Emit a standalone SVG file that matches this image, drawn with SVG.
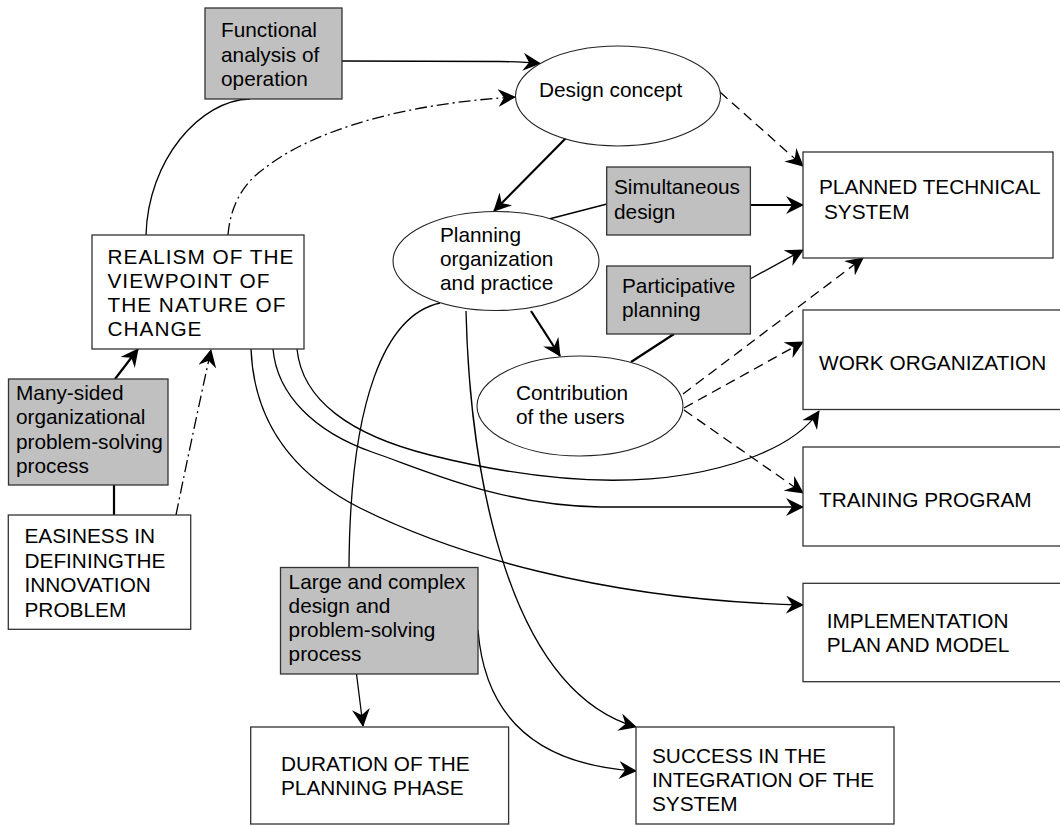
<svg xmlns="http://www.w3.org/2000/svg" width="1060" height="826" viewBox="0 0 1060 826">
<defs>
<style>
.box{fill:#fff;stroke:#333;stroke-width:1.3}
.gray{fill:#c0c0c0;stroke:#333;stroke-width:1.3}
.ell{fill:#fff;stroke:#222;stroke-width:1.1}
text{font-family:"Liberation Sans",Arial,sans-serif;font-size:20.8px;fill:#000}
.ls{letter-spacing:1px}
.c{fill:none;stroke:#000;stroke-width:1.3}
.t{stroke-width:2.2}
.dash{stroke-dasharray:10,6}
.dd{stroke-dasharray:12,4,2,4}
.a{marker-end:url(#arr)}
</style>
<marker id="arr" markerUnits="userSpaceOnUse" viewBox="0 0 18 18" refX="17" refY="9" markerWidth="18" markerHeight="18" orient="auto">
<path d="M0,0 L18,9 L0,18 L6,9 z" fill="#000"/>
</marker>
</defs>
<rect width="1060" height="826" fill="#fff"/>

<g id="connectors">
<path class="c a" d="M342,61 L500,61.5 Q525,62 540,63.5"/>
<path class="c" d="M146,235 C148,160 200,100 250,99"/>
<path class="c a dd" d="M228,235 C230,210 240,185 265,168 C300,140 380,105 515,97"/>
<path class="c t a" d="M567,137 L494,211"/>
<path class="c a dash" d="M720,92 L803,166"/>
<path class="c" d="M549,219 L607,204"/>
<path class="c t a" d="M750,205 L803,205"/>
<path class="c a" d="M750,279 L803,250"/>
<path class="c t a" d="M531,311 L560,356"/>
<path class="c t" d="M674,334 L631,362"/>
<path class="c a dash" d="M683,394 L863,258"/>
<path class="c a dash" d="M684,408 L803,342"/>
<path class="c a dash" d="M684,410 L803,493"/>
<path class="c a" d="M297,349 C302,400 350,435 430,455 C530,480 650,495 750,458 Q800,439.5 819,411"/>
<path class="c a" d="M273,349 C277,395 315,432 372,452 C430,472 500,505 600,507 L803,507"/>
<path class="c a" d="M251,349 C254,425 295,475 360,508 C450,553 600,600 803,605"/>
<path class="c" d="M440,303 C385,315 350,400 349,567"/>
<path class="c a" d="M466,311 C470,480 510,690 636,727"/>
<path class="c a" d="M356.5,674 L363,726"/>
<path class="c a" d="M478,630 C485,720 540,765 636,771"/>
<path class="c t a" d="M115,379 L138,349"/>
<path class="c t" d="M114,485 L114,515"/>
<path class="c a dd" d="M176,515 C183,480 200,400 211,350"/>
</g>

<g id="functional">
<rect class="gray" x="205" y="8" width="137" height="91"/>
<text x="221" y="37">Functional</text>
<text x="221" y="61.5">analysis of</text>
<text x="221" y="86">operation</text>
</g>

<g id="design-concept">
<ellipse class="ell" cx="618" cy="96" rx="102.5" ry="50"/>
<text x="539" y="97">Design concept</text>
</g>

<g id="planned-technical-system">
<rect class="box" x="803" y="152" width="250" height="106"/>
<text x="819" y="194">PLANNED TECHNICAL</text>
<text x="824" y="219">SYSTEM</text>
</g>

<g id="simultaneous-design">
<rect class="gray" x="606.7" y="167" width="143.7" height="68"/>
<text x="614" y="194">Simultaneous</text>
<text x="614" y="219">design</text>
</g>

<g id="participative-planning">
<rect class="gray" x="606.7" y="266" width="143.7" height="68"/>
<text x="622" y="293">Participative</text>
<text x="622" y="317">planning</text>
</g>

<g id="planning-organization">
<ellipse class="ell" cx="496" cy="261" rx="103" ry="49.5"/>
<text x="440" y="241.5">Planning</text>
<text x="440" y="265.5">organization</text>
<text x="440" y="289.5">and practice</text>
</g>

<g id="realism">
<rect class="box" x="92" y="235" width="212" height="114"/>
<text class="ls" x="107.5" y="264">REALISM OF THE</text>
<text class="ls" x="107.5" y="288">VIEWPOINT OF</text>
<text class="ls" x="107.5" y="312">THE NATURE OF</text>
<text class="ls" x="107.5" y="336">CHANGE</text>
</g>

<g id="contribution-users">
<ellipse class="ell" cx="580" cy="406" rx="103" ry="50"/>
<text x="516" y="400">Contribution</text>
<text x="516" y="423.5">of the users</text>
</g>

<g id="work-organization">
<rect class="box" x="803" y="310" width="270" height="99.5"/>
<text x="819" y="370">WORK ORGANIZATION</text>
</g>

<g id="many-sided">
<rect class="gray" x="8.5" y="379" width="159.5" height="106"/>
<text x="16" y="400">Many-sided</text>
<text x="16" y="424">organizational</text>
<text x="16" y="448.5">problem-solving</text>
<text x="16" y="473">process</text>
</g>

<g id="training-program">
<rect class="box" x="803" y="447" width="270" height="99"/>
<text x="819" y="507">TRAINING PROGRAM</text>
</g>

<g id="easiness">
<rect class="box" x="8.3" y="515" width="182.4" height="114.3"/>
<text x="24.5" y="543">EASINESS IN</text>
<text x="24.5" y="567.5">DEFININGTHE</text>
<text x="24.5" y="592">INNOVATION</text>
<text x="24.5" y="616.5">PROBLEM</text>
</g>

<g id="large-complex">
<rect class="gray" x="280.5" y="567.5" width="197.5" height="106.5"/>
<text x="288.6" y="589">Large and complex</text>
<text x="288.6" y="613">design and</text>
<text x="288.6" y="637">problem-solving</text>
<text x="288.6" y="661">process</text>
</g>

<g id="implementation">
<rect class="box" x="803" y="583.3" width="270" height="98.4"/>
<text x="826.7" y="628">IMPLEMENTATION</text>
<text x="826.7" y="652">PLAN AND MODEL</text>
</g>

<g id="duration">
<rect class="box" x="250.7" y="727" width="257.9" height="97"/>
<text x="281" y="771">DURATION OF THE</text>
<text x="281" y="794.5">PLANNING PHASE</text>
</g>

<g id="success">
<rect class="box" x="636" y="727" width="258" height="97"/>
<text x="652" y="763">SUCCESS IN THE</text>
<text x="652" y="787">INTEGRATION OF THE</text>
<text x="652" y="811">SYSTEM</text>
</g>
</svg>
